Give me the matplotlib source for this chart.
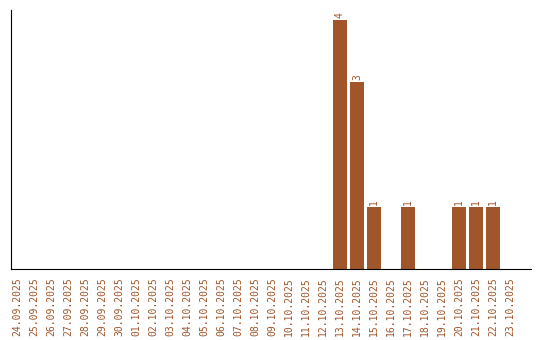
import numpy as np
import pandas as pd
from matplotlib import pyplot as plt

dates = pd.date_range("2025-09-24", "2025-10-23", freq="D")
labels = [d.strftime("%d.%m.%Y") for d in dates]
counts_by_day = {"13.10.2025": 4, "14.10.2025": 3, "15.10.2025": 1,
                 "17.10.2025": 1, "20.10.2025": 1, "21.10.2025": 1,
                 "22.10.2025": 1}
counts = [counts_by_day.get(l, 0) for l in labels]

color = "#a0552a"

fig = plt.figure(figsize=(5.4, 3.4), dpi=100)
ax = fig.add_axes([11 / 540, 71 / 340, 520 / 540, 259 / 340])
x = np.arange(len(labels))
bars = ax.bar(x, counts, width=0.82, color=color)

for xi, c in zip(x, counts):
    if c > 0:
        ax.text(xi, c + 0.03, str(c), rotation=90, ha="center", va="bottom",
                color=color, fontsize=7, family="DejaVu Sans Mono")

# slot ~17px, first label sits close to the left spine
ax.set_xlim(-0.35, len(labels) - 1 + 1.24)
ax.set_ylim(0, 4.16)
ax.set_xticks(x)
ax.set_xticklabels(labels, rotation=90, color=color, fontsize=7,
                   family="DejaVu Sans Mono")
ax.tick_params(axis="x", length=0, pad=6)
ax.set_yticks([])
ax.spines["top"].set_visible(False)
ax.spines["right"].set_visible(False)

fig.savefig("out.png", dpi=100)
